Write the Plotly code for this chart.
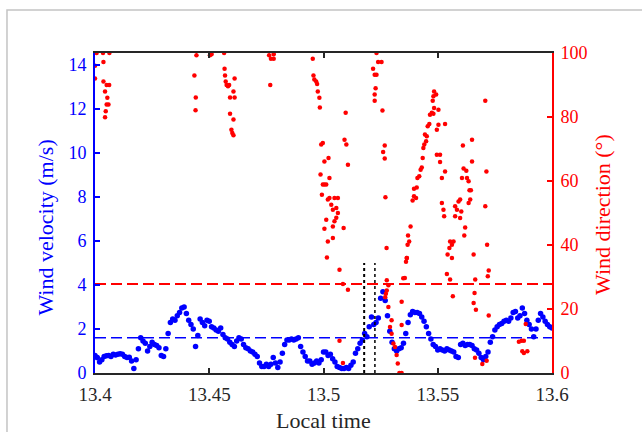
import numpy as np
import plotly.graph_objects as go

# ---------------- data ----------------
vel_t0 = 13.4          # first sample (local time, h)
vel_dt = 0.001         # sampling step (h)
wind_velocity = [
    0.80, 0.70, 0.50, 0.60, 0.75, 0.78, 0.80, 0.75, 0.85, 0.82,
    0.85, 0.88, 0.85, 0.75, 0.70, 0.72, 0.55, 0.20, 0.60, 1.10,
    1.60, 1.45, 1.35, 1.00, 1.20, 1.40, 1.30, 1.25, 1.15, 0.80,
    0.75, 1.10, 1.80, 2.30, 2.45, 2.40, 2.60, 2.75, 2.95, 3.00,
    2.70, 2.40, 2.20, 2.00, 1.20, 1.70, 2.45, 2.30, 2.15, 2.40,
    2.35, 2.10, 2.05, 1.95, 1.90, 2.05, 1.75, 1.60, 1.55, 1.40,
    1.30, 1.20, 1.45, 1.60, 1.55, 1.30, 1.15, 1.10, 1.00, 0.95,
    0.85, 0.75, 0.45, 0.30, 0.30, 0.40, 0.30, 0.40, 0.70, 0.45,
    0.25, 0.50, 0.90, 1.30, 1.50, 1.50, 1.55, 1.50, 1.55, 1.60,
    1.20, 0.95, 0.75, 0.55, 0.55, 0.40, 0.45, 0.55, 0.45, 0.60,
    0.95, 0.95, 0.80, 0.85, 0.65, 0.50, 0.30, 0.25, 0.20, 0.20,
    0.25, 0.20, 0.35, 0.50, 0.90, 1.10, 1.35, 1.50, 1.80, 1.65,
    2.10, 2.55, 2.20, 2.30, 2.50, 3.40, 3.70, 3.30, 2.60, 1.90,
    1.40, 1.10, 1.00, 1.10, 1.15, 1.35, 1.80, 2.30, 2.65, 2.80,
    2.75, 2.75, 2.70, 2.55, 2.35, 2.10, 1.80, 1.55, 1.30, 1.20,
    1.05, 1.10, 1.05, 1.00, 1.10, 1.05, 1.00, 0.95, 0.75, 0.70,
    1.30, 1.35, 1.25, 1.30, 1.30, 1.25, 1.10, 1.05, 0.90, 0.70,
    0.60, 0.75, 0.95, 1.40, 1.65, 1.95, 2.10, 2.20, 2.25, 2.35,
    2.40, 2.35, 2.50, 2.75, 2.80, 2.50, 2.60, 2.95, 2.70, 2.40,
    2.20, 2.00, 1.65, 2.00, 2.40, 2.70, 2.55, 2.35, 2.20, 2.10,
    2.05,
]
vel_time = np.round(vel_t0 + vel_dt * np.arange(len(wind_velocity)), 4)

dir_time = [
    # cluster near 13.40
    13.4000, 13.4000, 13.4007, 13.4035, 13.4063, 13.4037, 13.4037, 13.4044,
    13.4051, 13.4062, 13.4054, 13.4051, 13.4059, 13.4047, 13.4044,
    # near 13.445
    13.4435, 13.4441, 13.4440, 13.4444, 13.4503, 13.4510, 13.4565,
    # near 13.458
    13.4567, 13.4569, 13.4572, 13.4576, 13.4582, 13.4587, 13.4611, 13.4591,
    13.4611, 13.4606, 13.4591, 13.4606, 13.4597, 13.4601, 13.4606,
    # near 13.477
    13.4762, 13.4770, 13.4782, 13.4782, 13.4767,
    # near 13.50
    13.4953, 13.4956, 13.4960, 13.4968, 13.4972, 13.4975, 13.4982, 13.4984,
    13.4990, 13.4997, 13.4987, 13.4993, 13.4997, 13.5004, 13.5022, 13.5004,
    13.5012, 13.5019, 13.5026, 13.5012, 13.5004, 13.5019, 13.5015, 13.5034,
    13.5048, 13.5063, 13.5041, 13.5056, 13.5063, 13.5048, 13.5041, 13.5041,
    13.5070, 13.5085, 13.5107, 13.5088, 13.5097, 13.5092, 13.5100, 13.5107,
    13.5070, 13.5085, 13.5026, 13.5056,
    # near 13.525
    13.5217, 13.5224, 13.5232, 13.5228, 13.5224, 13.5224, 13.5239, 13.5232,
    13.5254, 13.5258, 13.5268, 13.5261, 13.5268, 13.5271, 13.5276,
    13.5277, 13.5284, 13.5277, 13.5273, 13.5270, 13.5284, 13.5298, 13.5291,
    13.5298, 13.5306, 13.5313, 13.5320, 13.5325, 13.5332, 13.5342, 13.5342,
    13.5342, 13.5361, 13.5365, 13.5349,
    # rising branch 13.535-13.553
    13.5356, 13.5364, 13.5368, 13.5375, 13.5370, 13.5381, 13.5390, 13.5396,
    13.5405, 13.5396, 13.5408, 13.5411, 13.5419, 13.5425, 13.5430, 13.5434,
    13.5437, 13.5441, 13.5449, 13.5444, 13.5452, 13.5456, 13.5463, 13.5466,
    13.5474, 13.5481, 13.5484, 13.5478, 13.5484, 13.5481, 13.5493, 13.5496,
    13.5503, 13.5503, 13.5532, 13.5496, 13.5510, 13.5510, 13.5518, 13.5532,
    13.5518, 13.5525, 13.5528,
    # 13.554-13.567
    13.5576, 13.5584, 13.5591, 13.5598, 13.5576, 13.5598, 13.5603, 13.5606,
    13.5613, 13.5610, 13.5625, 13.5628, 13.5635, 13.5639, 13.5645, 13.5635,
    13.5642, 13.5650, 13.5650, 13.5620, 13.5616, 13.5554, 13.5562, 13.5569,
    13.5551, 13.5543, 13.5562, 13.5540, 13.5554, 13.5566, 13.5657, 13.5664,
    13.5661, 13.5657, 13.5667, 13.5663, 13.5695, 13.5714,
    # near 13.571
    13.5708, 13.5713, 13.5708, 13.5716, 13.5723, 13.5719, 13.5723,
    # near 13.587
    13.5867, 13.5877, 13.5870, 13.5877, 13.5892, 13.5885, 13.5855,
]
wind_direction = [
    96.0, 92.0, 100.0, 100.0, 100.0, 97.2, 91.1, 88.0,
    90.0, 90.0, 86.0, 83.9, 83.9, 81.8, 79.9,
    93.0, 86.1, 82.1, 99.3, 99.3, 99.6, 100.0,
    95.1, 93.0, 91.1, 90.0, 89.6, 90.0, 92.0, 86.1,
    86.1, 88.0, 81.0, 79.2, 76.0, 75.0, 74.3,
    99.3, 98.2, 98.2, 99.6, 90.0,
    98.2, 93.0, 91.7, 91.1, 90.3, 88.0, 86.0, 83.0,
    71.4, 71.9, 62.0, 55.7, 58.9, 66.1, 67.2, 58.9,
    58.9, 54.2, 54.7, 47.9, 45.1, 41.1, 36.1, 52.6,
    54.7, 54.7, 51.0, 51.6, 50.0, 47.4, 45.8, 42.2,
    32.3, 27.8, 26.0, 45.3, 81.3, 72.9, 71.4, 65.1,
    10.1, 3.1, 60.9, 48.5,
    95.1, 93.2, 93.2, 89.0, 87.0, 85.1, 97.2, 100.0,
    97.2, 82.0, 71.1, 69.1, 67.0, 54.9, 39.1,
    29.0, 27.4, 25.8, 24.8, 23.7, 20.6, 16.5, 14.4,
    12.3, 9.2, 8.1, 5.6, 3.0, 0.0, 0.0, 22.3,
    15.0, 34.8, 35.9, 29.6,
    29.7, 35.9, 40.1, 41.1, 43.0, 45.8, 53.9, 55.2,
    54.7, 57.6, 58.0, 60.9, 61.5, 63.5, 64.2, 67.2,
    70.3, 71.4, 72.4, 74.5, 74.0, 77.1, 77.8, 80.7,
    81.3, 81.0, 82.8, 85.1, 88.0, 86.5, 87.0, 76.0,
    77.6, 82.3, 77.8, 68.2, 68.2, 65.9, 60.9, 63.0,
    53.1, 51.0, 49.0,
    52.1, 51.0, 53.6, 54.2, 49.0, 48.4, 50.5, 60.9,
    63.9, 71.1, 63.2, 60.9, 59.9, 57.1, 57.1, 53.1,
    54.2, 66.1, 72.9, 45.5, 43.0, 41.1, 40.1, 41.1,
    39.1, 37.0, 35.9, 30.9, 29.2, 24.0, 37.0, 29.2,
    25.0, 21.9, 19.8, 4.8, 2.8, 3.8,
    85.1, 63.0, 52.1, 40.1, 32.0, 30.2, 18.0,
    10.1, 10.1, 6.8, 6.25, 6.8, 15.3, 9.8,
]

vel_threshold = 1.6      # m/s  (blue dashed line)
dir_threshold = 27.8     # deg  (red dashed line)
event_times = [13.5178, 13.5225]   # dotted markers
event_top = 5.0                    # m/s

x_tickvals = [13.4, 13.45, 13.5, 13.55, 13.6]
x_ticktext = ["13.4", "13.45", "13.5", "13.55", "13.6"]
yl_tickvals = [0, 2, 4, 6, 8, 10, 12, 14]
yr_tickvals = [0, 20, 40, 60, 80, 100]

# ---------------- figure ----------------
FONT = "Liberation Serif"
BLUE = "#0000ff"
RED = "#ff0000"
DARK = "#262626"

fig = go.Figure()

fig.add_trace(go.Scatter(
    x=vel_time, y=wind_velocity, mode="markers", yaxis="y",
    marker=dict(color=BLUE, size=5.5, line=dict(width=0)), showlegend=False))
fig.add_trace(go.Scatter(
    x=[x_tickvals[0], x_tickvals[-1]], y=[vel_threshold, vel_threshold],
    mode="lines", yaxis="y",
    line=dict(color=BLUE, width=1.5, dash="11px,5px"), showlegend=False))
fig.add_trace(go.Scatter(
    x=dir_time, y=wind_direction, mode="markers", yaxis="y2",
    marker=dict(color=RED, size=4.5, line=dict(width=0)), showlegend=False))
fig.add_trace(go.Scatter(
    x=[x_tickvals[0], x_tickvals[-1]], y=[dir_threshold, dir_threshold],
    mode="lines", yaxis="y2",
    line=dict(color=RED, width=2, dash="11px,5px"), showlegend=False))

for i, t in enumerate(event_times):
    fig.add_shape(type="line", xref="x", yref="y", x0=t, x1=t, y0=0, y1=event_top,
                  line=dict(color="black", width=2 if i == 0 else 1.5, dash="dot"),
                  layer="above")

# light grey frame around the figure
fig.add_shape(type="rect", xref="paper", yref="paper",
              x0=-0.1926, x1=1.30, y0=-0.30, y1=1.134,
              line=dict(color="#c4c4c4", width=1.5), layer="above")

fig.update_layout(
    width=642, height=432,
    margin=dict(l=95, r=90, t=53, b=59),
    paper_bgcolor="white", plot_bgcolor="white",
    font=dict(family=FONT, size=19, color=DARK),
    showlegend=False,
    xaxis=dict(range=[13.4, 13.6], tickvals=x_tickvals, ticktext=x_ticktext,
               showline=True, linecolor=DARK, linewidth=1.5, mirror="ticks",
               ticks="inside", ticklen=5, tickwidth=1.5, tickcolor=DARK,
               showgrid=False, zeroline=False, ticklabelstandoff=3,
               tickfont=dict(family=FONT, size=19, color=DARK)),
    yaxis=dict(range=[0, 14.55], tickvals=yl_tickvals,
               showline=True, linecolor=BLUE, linewidth=2,
               ticks="inside", ticklen=5, tickwidth=2, tickcolor=BLUE,
               showgrid=False, zeroline=False, ticklabelstandoff=3,
               tickfont=dict(family=FONT, size=18, color=BLUE)),
    yaxis2=dict(range=[0, 100], tickvals=yr_tickvals, overlaying="y", side="right",
                showline=True, linecolor=RED, linewidth=2,
                ticks="inside", ticklen=5, tickwidth=2, tickcolor=RED,
                showgrid=False, zeroline=False, ticklabelstandoff=3,
                tickfont=dict(family=FONT, size=18, color=RED)),
    annotations=[
        dict(text="Local time", xref="paper", yref="paper", x=0.501, y=-0.147,
             showarrow=False, xanchor="center", yanchor="middle",
             font=dict(family=FONT, size=22, color=DARK)),
        dict(text="Wind velocity (m/s)", xref="paper", yref="paper", x=-0.109, y=0.455,
             showarrow=False, textangle=-90, xanchor="center", yanchor="middle",
             font=dict(family=FONT, size=22, color=BLUE)),
        dict(text="Wind direction (°)", xref="paper", yref="paper", x=1.1116, y=0.494,
             showarrow=False, textangle=-90, xanchor="center", yanchor="middle",
             font=dict(family=FONT, size=22, color=RED)),
    ],
)

fig.write_html("out.html")
